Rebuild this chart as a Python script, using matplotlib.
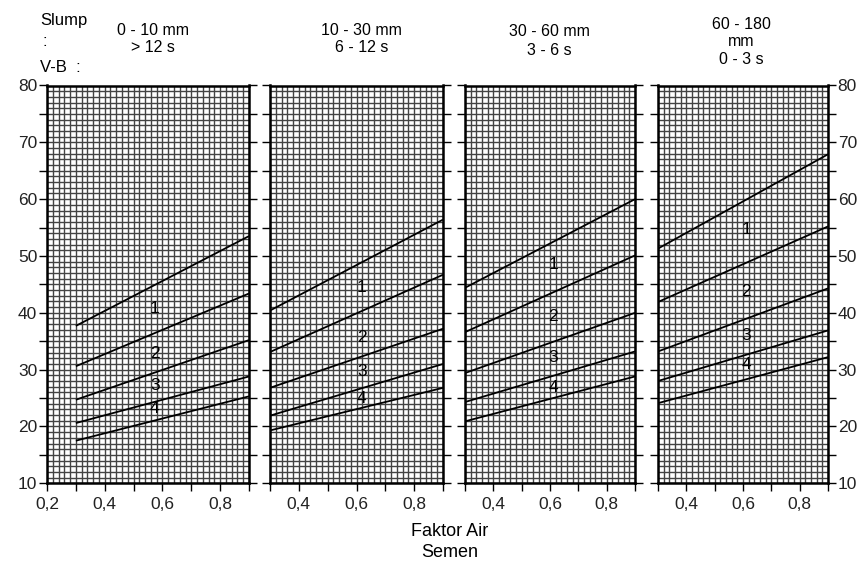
import numpy as np
import matplotlib.pyplot as plt
from matplotlib.ticker import FuncFormatter, MultipleLocator

plt.rcParams['font.family'] = ['Liberation Sans', 'DejaVu Sans']

# water/cement factor at the ends of each curve
x_ends = [0.3, 0.9]

# strength curves (start value at 0.3, end value at 0.9), curves top to bottom
p1_start = [37.7, 30.6, 24.7, 20.6, 17.5]
p1_end = [53.5, 43.4, 35.2, 28.8, 25.3]
p2_start = [40.4, 33.1, 26.8, 21.9, 19.3]
p2_end = [56.4, 46.7, 37.2, 31.0, 26.8]
p3_start = [44.4, 36.6, 29.4, 24.3, 20.9]
p3_end = [60.0, 50.1, 40.0, 33.2, 28.8]
p4_start = [51.3, 41.9, 33.2, 28.0, 24.1]
p4_end = [67.9, 55.2, 44.3, 36.9, 32.2]

# curve number labels: x, y values
label_text = ["1", "2", "3", "4"]
p1_lab_x, p1_lab_y = 0.574, [40.7, 32.9, 27.2, 23.2]
p2_lab_x, p2_lab_y = 0.618, [44.4, 35.7, 29.7, 25.0]
p3_lab_x, p3_lab_y = 0.612, [48.5, 39.4, 32.2, 26.9]
p4_lab_x, p4_lab_y = 0.612, [54.6, 43.8, 36.0, 30.9]

headers = ["0 - 10 mm\n> 12 s", "10 - 30 mm\n6 - 12 s", "30 - 60 mm\n3 - 6 s", "60 - 180\nmm\n0 - 3 s"]

W, H = 858, 573
fig = plt.figure(figsize=(W / 100, H / 100), dpi=100)

# pixel boxes (left, right) of the four panels
boxes = [(47, 249), (270, 443), (465, 635), (658, 828)]
xlims = [(0.2, 0.9), (0.3, 0.9), (0.3, 0.9), (0.3, 0.9)]
top_px, bot_px = 85.5, 483.3

panels = [
    (p1_start, p1_end, p1_lab_x, p1_lab_y),
    (p2_start, p2_end, p2_lab_x, p2_lab_y),
    (p3_start, p3_end, p3_lab_x, p3_lab_y),
    (p4_start, p4_end, p4_lab_x, p4_lab_y),
]


def xfmt(v, pos):
    k = int(round(v * 10))
    if k % 2 == 0 and k <= 8:
        return ("%.1f" % v).replace(".", ",")
    return ""


def yfmt(v, pos):
    if int(round(v)) % 10 == 0:
        return "%d" % int(round(v))
    return ""


for i, (st, en, lx, ly) in enumerate(panels):
    l, r = boxes[i]
    ax = fig.add_axes([l / W, 1 - bot_px / H, (r - l) / W, (bot_px - top_px) / H])
    ax.set_xlim(*xlims[i])
    ax.set_ylim(10, 80)

    ax.xaxis.set_major_locator(MultipleLocator(0.1))
    ax.xaxis.set_minor_locator(MultipleLocator(0.02))
    ax.yaxis.set_major_locator(MultipleLocator(5))
    ax.yaxis.set_minor_locator(MultipleLocator(1))
    ax.grid(which="both", color="#444444", linewidth=1.0)
    ax.set_axisbelow(True)

    ax.tick_params(which="minor", length=0)
    ax.tick_params(axis="x", which="major", direction="out", length=6, width=1,
                   labelsize=12.5, pad=4, labelcolor="#222222")
    ax.tick_params(axis="y", which="major", direction="out", length=6, width=1,
                   left=True, right=True, labelleft=(i == 0), labelright=(i == 3),
                   labelsize=12.5, pad=1, labelcolor="#222222")
    ax.xaxis.set_major_formatter(FuncFormatter(xfmt))
    ax.yaxis.set_major_formatter(FuncFormatter(yfmt))

    for s in ax.spines.values():
        s.set_linewidth(1.8)
        s.set_color("black")

    for a, b in zip(st, en):
        ax.plot(x_ends, [a, b], color="black", linewidth=1.3, solid_capstyle="butt")

    for t, yv in zip(label_text, ly):
        ax.text(lx, yv, t, fontsize=12.5, ha="center", va="center", color="black")

    cx = (l + r) / 2 / W
    if i == 3:
        fig.text(cx - 0.002, 1 - 42 / H, headers[i], ha="center", va="center",
                 fontsize=11.5, linespacing=1.2)
    elif i == 2:
        fig.text(cx - 0.001, 1 - 41 / H, headers[i], ha="center", va="center",
                 fontsize=11.5, linespacing=1.35)
    else:
        fig.text(cx + 0.006, 1 - 39 / H, headers[i], ha="center", va="center",
                 fontsize=11.5, linespacing=1.2)

fig.text(40 / W, 1 - 21 / H, "Slump", ha="left", va="center", fontsize=12)
fig.text(42 / W, 1 - 42 / H, ":", ha="left", va="center", fontsize=12)
fig.text(40 / W, 1 - 67 / H, "V-B  :", ha="left", va="center", fontsize=12)

fig.text(450 / W, 1 - 542 / H, "Faktor Air\nSemen", ha="center", va="center",
         fontsize=13, linespacing=1.25)

fig.savefig("out.png", dpi=100)
